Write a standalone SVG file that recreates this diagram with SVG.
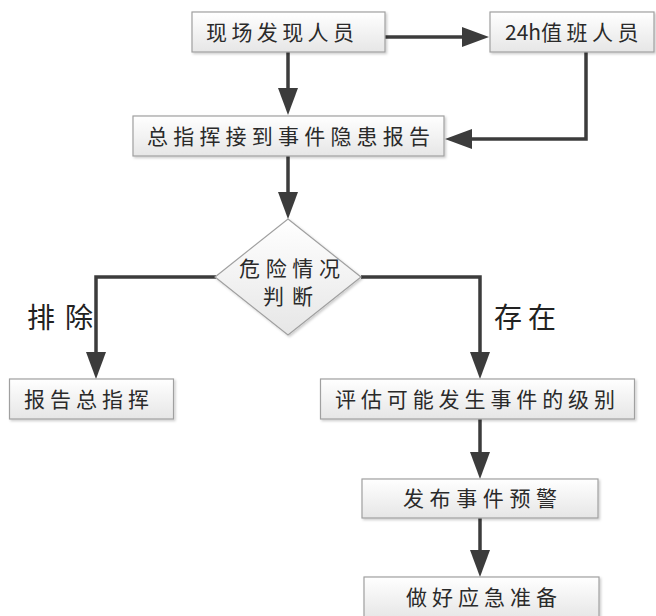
<svg xmlns="http://www.w3.org/2000/svg" width="656" height="616" viewBox="0 0 656 616">
<style>
.box{fill:url(#g);stroke:#a0a0a0;stroke-width:1.2;filter:url(#sh)}
.t{font-family:"Noto Sans CJK SC","Noto Sans",sans-serif;font-size:21px;fill:#2a2a2a}
.lbl{font-family:"Noto Sans CJK SC","Noto Sans",sans-serif;font-size:28px;fill:#222}
.c{fill:none;stroke:#3c3c3c;stroke-width:3.5}
</style>
<defs>
<linearGradient id="g" x1="0" y1="0" x2="0" y2="1">
<stop offset="0" stop-color="#ffffff"/>
<stop offset="1" stop-color="#e6e6e6"/>
</linearGradient>
<filter id="sh" x="-10%" y="-20%" width="120%" height="150%">
<feDropShadow dx="1.5" dy="1.5" stdDeviation="1" flood-color="#000" flood-opacity="0.2"/>
</filter>
<marker id="ah" markerUnits="userSpaceOnUse" markerWidth="28" markerHeight="22" refX="0" refY="10" orient="auto">
<path d="M0,0 L27,10 L0,20 Z" fill="#3c3c3c"/>
</marker>
</defs>
<rect width="656" height="616" fill="#fff"/>
<g id="connectors">
<path class="c" d="M288 52 V88" marker-end="url(#ah)"/>
<path class="c" d="M385 37 H462" marker-end="url(#ah)"/>
<path class="c" d="M586 52 V139 H472" marker-end="url(#ah)"/>
<path class="c" d="M288 156 V192" marker-end="url(#ah)"/>
<path class="c" d="M216 277 H96 V352" marker-end="url(#ah)"/>
<path class="c" d="M361 277 H480 V352" marker-end="url(#ah)"/>
<path class="c" d="M480 419 V452" marker-end="url(#ah)"/>
<path class="c" d="M480 518 V550" marker-end="url(#ah)"/>
<text class="lbl" x="27" y="328" textLength="66">排除</text>
<text class="lbl" x="494" y="328" textLength="62">存在</text>
</g>
<g id="n1"><rect class="box" x="192" y="12" width="193" height="40"/><text class="t" x="206" y="40" textLength="148">现场发现人员</text></g>
<g id="n2"><rect class="box" x="490" y="12" width="164" height="40"/><text class="t" x="505" y="40">24h<tspan letter-spacing="4.5">值班人员</tspan></text></g>
<g id="n3"><rect class="box" x="133" y="116" width="311" height="40"/><text class="t" x="147" y="144" textLength="283">总指挥接到事件隐患报告</text></g>
<g id="n4"><path d="M288 219 L361 277 L288 335 L215 277 Z" fill="url(#g)" stroke="#a0a0a0" stroke-width="1.2" filter="url(#sh)"/><text class="t" x="239" y="276" textLength="101">危险情况</text><text class="t" x="263" y="304" textLength="50">判断</text></g>
<g id="n5"><rect class="box" x="9.5" y="379" width="164" height="40"/><text class="t" x="24" y="407" textLength="125">报告总指挥</text></g>
<g id="n6"><rect class="box" x="320.5" y="379" width="314" height="40"/><text class="t" x="335" y="407" textLength="280">评估可能发生事件的级别</text></g>
<g id="n7"><rect class="box" x="362" y="479" width="236" height="39"/><text class="t" x="403" y="506" textLength="154">发布事件预警</text></g>
<g id="n8"><rect class="box" x="364" y="577" width="235" height="42"/><text class="t" x="406" y="605" textLength="151">做好应急准备</text></g>
</svg>
